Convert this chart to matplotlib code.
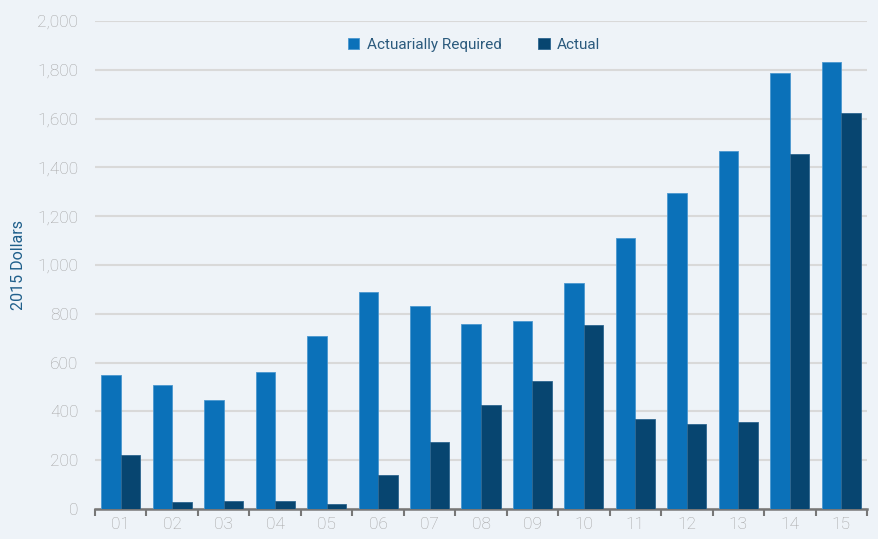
import matplotlib
matplotlib.use("Agg")
import matplotlib.pyplot as plt
import numpy as np
from matplotlib.ticker import FuncFormatter, FixedLocator

years = ["01", "02", "03", "04", "05", "06", "07", "08", "09", "10", "11", "12", "13", "14", "15"]
actuarially_required = [550, 510, 447, 560, 709, 890, 834, 758, 771, 927, 1111, 1296, 1468, 1788, 1834]
actual = [223, 29, 33, 33, 21, 141, 273, 426, 524, 754, 369, 347, 355, 1456, 1622]

plt.rcParams['font.family'] = ['Roboto', 'DejaVu Sans']

bg = '#EEF3F8'
c_ar = '#0B71B9'
c_act = '#074570'

fig = plt.figure(figsize=(8.79, 5.39), dpi=100, facecolor=bg)
ax = fig.add_axes([95/879, 1 - 509/539, (867-95)/879, (509-21)/539])
ax.set_facecolor(bg)

x = np.arange(len(years))
w = 0.38
ax.bar(x - w/2, actuarially_required, width=w, color=c_ar, edgecolor='#4A97CF', linewidth=0.6,
       label='Actuarially Required', zorder=3)
ax.bar(x + w/2, actual, width=w, color=c_act, edgecolor='#2D6690', linewidth=0.6,
       label='Actual', zorder=3)

ax.set_xlim(-0.5, len(years) - 0.5)
ax.set_ylim(0, 2000)
ax.set_yticks(np.arange(0, 2001, 200))
ax.yaxis.set_major_formatter(FuncFormatter(lambda v, p: f"{int(v):,}"))
ax.grid(axis='y', color='#D9D9D9', linewidth=1.5, zorder=0)
ax.set_axisbelow(True)

ax.set_xticks(x)
ax.set_xticklabels(years)
ax.xaxis.set_minor_locator(FixedLocator(np.arange(-0.5, len(years), 1.0)))
ax.tick_params(axis='x', which='major', length=0, pad=6, labelsize=12.5, labelcolor='#A3A3A3')
ax.tick_params(axis='x', which='minor', length=5, width=1.5, color='#777777', direction='out')
ax.tick_params(axis='y', length=0, pad=12, labelsize=12.5, labelcolor='#A3A3A3')
for lab in ax.get_xticklabels() + ax.get_yticklabels():
    lab.set_fontweight('light')

for s in ['top', 'right', 'left']:
    ax.spines[s].set_visible(False)
ax.spines['bottom'].set_color('#777777')
ax.spines['bottom'].set_linewidth(1.8)

ax.set_ylabel('2015 Dollars', color='#1F5F8B', fontsize=11.5)
ax.yaxis.set_label_coords(-0.09, 0.5)

leg = ax.legend(loc='center', bbox_to_anchor=(474/879, 1 - 45/539), bbox_transform=fig.transFigure,
                ncol=2, frameon=False, fontsize=11, handlelength=0.75, handleheight=0.75,
                columnspacing=2.4, handletextpad=0.5)
for t in leg.get_texts():
    t.set_color('#2B5A7D')

fig.savefig('out.png', dpi=100, facecolor=bg)
